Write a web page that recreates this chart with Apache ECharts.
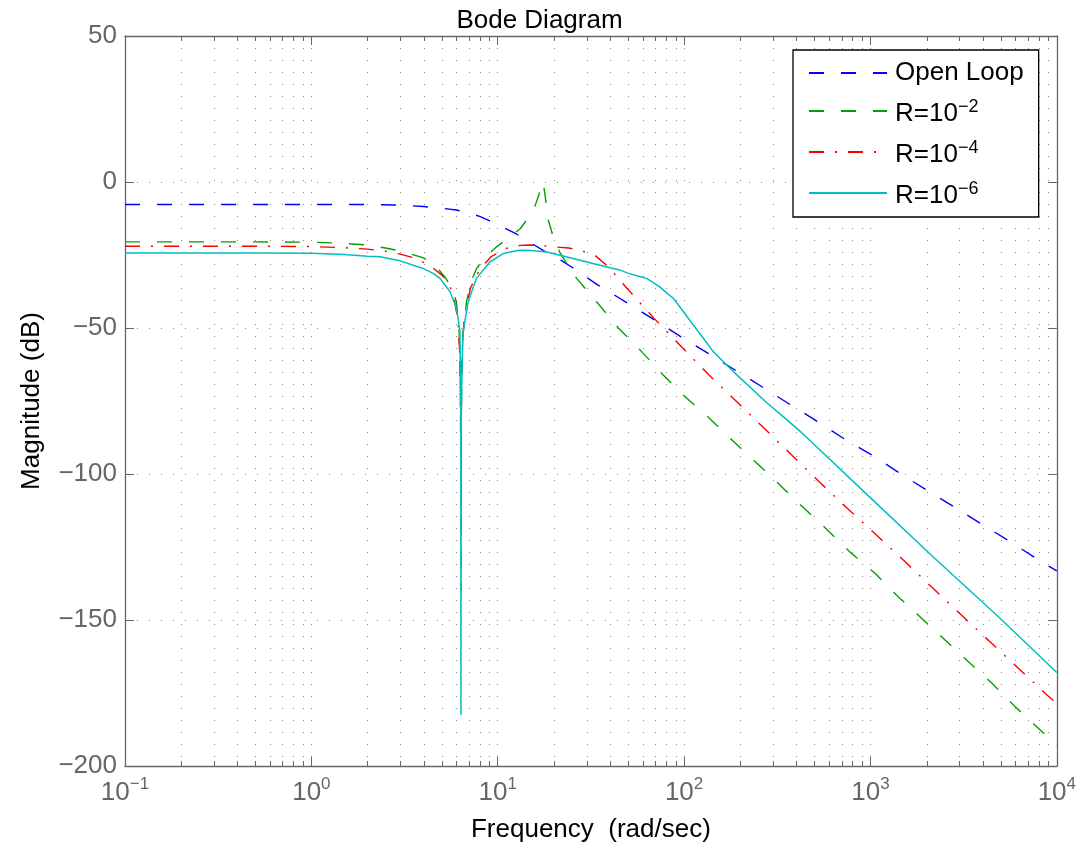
<!DOCTYPE html>
<html>
<head>
<meta charset="utf-8">
<script src="https://cdn.jsdelivr.net/npm/echarts@6/dist/echarts.min.js"></script>
<style>
  html, body { margin: 0; padding: 0; background: #fff; }
  #chart { width: 1079px; height: 848px; }
</style>
</head>
<body>
<div id="chart"></div>
<script>
// ---- Data (frequency rad/s, magnitude dB) ----
const seriesNames = ['Open Loop', 'R=10^−2', 'R=10^−4', 'R=10^−6'];

const openLoopFreq = [0.1, 1, 2, 3, 4, 5, 6, 7, 8, 9, 10, 12.6, 15, 17.8, 20, 24.9, 34.5, 49, 68, 95, 134, 190, 263, 370, 522, 729, 1030, 1440, 2000, 2840, 3950, 5580, 7780, 10000];
const openLoopDb   = [-7.7, -7.7, -7.7, -7.9, -8.4, -9.0, -9.6, -10.6, -11.8, -13.2, -14.6, -17.8, -20.8, -23.7, -25.3, -29.1, -35.3, -41.2, -46.9, -52.8, -58.6, -64.6, -70.2, -76.2, -82.1, -88.1, -93.7, -99.8, -105.5, -111.4, -117.2, -123, -129, -133.2];

const r2Freq = [0.1, 0.5, 1, 1.5, 2, 2.5, 3, 4, 4.6, 5.2, 5.7, 6.0, 6.2, 6.33, 6.35, 6.37, 6.5, 6.8, 7.2, 7.7, 8.7, 9.86, 11.5, 13.2, 14.7, 15.9, 16.7, 17.2, 17.5, 17.9, 18.7, 20, 21.5, 24, 26.5, 33.9, 44.4, 59, 77, 103, 132, 200, 300, 445, 580, 776, 1057, 1409, 1880, 2506, 3343, 4460, 5944, 10000];
const r2Db   = [-20.5, -20.5, -20.6, -21.0, -21.6, -22.6, -23.6, -26.0, -28.5, -32.5, -36.5, -41, -50, -80, -140, -80, -52, -41, -34, -29.6, -25.3, -22.2, -19, -16, -12, -8, -4, -0.7, 0, -4, -13.2, -19.5, -24, -29, -33, -41, -50, -58, -66, -74, -80, -91, -101.5, -112, -118.8, -126.7, -134, -142, -149.4, -156.8, -164.2, -171.5, -179.5, -193];

const r4Freq = [0.1, 0.5, 1, 1.5, 2, 2.5, 3, 3.73, 4.5, 5.0, 5.41, 5.8, 6.1, 6.3, 6.35, 6.4, 6.6, 7.13, 8, 9.2, 11, 13.2, 15, 17, 20, 24, 28, 30, 33.2, 38.4, 44, 50, 69, 96, 134, 190, 536, 758, 1080, 1531, 2173, 3077, 4365, 6194, 8790, 10000];
const r4Db   = [-22.0, -22.0, -22.1, -22.5, -23.0, -23.7, -24.7, -26.4, -29.5, -31.8, -34.2, -39, -47, -62, -120, -62, -47, -36.4, -30, -25.6, -22.8, -21.7, -21.6, -21.8, -22.2, -22.6, -23.5, -24.2, -25.1, -28.5, -32.8, -36.8, -46.7, -56.2, -65.7, -75, -102.9, -112, -121, -130, -139.2, -148.3, -157.4, -166.4, -175.5, -178.5];

const r6Freq = [0.1, 0.5, 1, 1.5, 2, 2.33, 3, 3.97, 4.5, 4.9, 5.55, 6.01, 6.27, 6.33, 6.35, 6.37, 6.45, 6.53, 6.94, 7.69, 9.07, 10.7, 13.0, 15, 18.3, 21.6, 27.6, 40, 45, 50, 55, 63, 74, 80, 87.5, 100, 112, 125, 143, 165, 199, 277, 354, 418, 953, 2173, 4942, 10000];
const r6Db   = [-24.3, -24.3, -24.4, -24.8, -25.4, -25.6, -27.0, -29.6, -31.3, -33, -37.6, -43.3, -51.2, -80, -182.5, -80, -60, -51.2, -41, -33, -27.4, -24.5, -23.4, -23.5, -24.0, -25.1, -26.8, -29.4, -30.1, -31.2, -32, -33, -35.9, -37.8, -39.8, -44.7, -49, -52.9, -58, -62, -67, -75.5, -81.3, -85.3, -106.9, -128.4, -149.3, -168];

// Axis ranges / ticks
const xMin = 0.1, xMax = 10000;
const yMin = -200, yMax = 50, yStep = 50;
const minorMultipliers = [2, 3, 4, 5, 6, 7, 8, 9];
const decadeStarts = [0.1, 1, 10, 100, 1000];

// ---- Build ----
const minorFreqs = [];
decadeStarts.forEach(d => minorMultipliers.forEach(m => minorFreqs.push([+(d * m).toPrecision(6), yMin])));

function zip(f, v) { return f.map((x, i) => [x, v[i]]); }

const FONT = "'Liberation Sans', Arial, Helvetica, sans-serif";
const AXIS_COLOR = '#666666';
const GRID_DOT = '#8a8a8a';
const minus = s => String(s).replace('-', '\u2212');

function legendFmt(name) {
  const p = name.split('^');
  if (p.length === 1) return '{o|' + name + '}';
  return '{b|' + p[0] + '}{s|' + p[1] + '}';
}

const chart = echarts.init(document.getElementById('chart'), null, { renderer: 'canvas' });

const lineCommon = { type: 'line', showSymbol: false, symbol: 'none', smooth: false, xAxisIndex: 0, yAxisIndex: 0, clip: true };

const option = {
  animation: false,
  backgroundColor: '#ffffff',
  textStyle: { fontFamily: FONT },
  title: {
    text: 'Bode Diagram', left: 'center', top: 3,
    textStyle: { fontFamily: FONT, fontSize: 26, fontWeight: 'normal', color: '#000' }
  },
  grid: { left: 125, right: 22, top: 36, bottom: 78, containLabel: false },
  legend: {
    data: seriesNames,
    orient: 'vertical',
    left: 793, top: 50,
    backgroundColor: '#fff',
    borderColor: '#000', borderWidth: 1.3, borderRadius: 0,
    padding: [10, 15, 8, 15],
    itemWidth: 78, itemHeight: 14, itemGap: 9,
    itemStyle: { opacity: 0 },
    formatter: legendFmt,
    textStyle: {
      fontFamily: FONT, color: '#000',
      rich: {
        o: { fontSize: 26, lineHeight: 32, color: '#000', padding: [0, 0, 0, 3] },
        b: { fontSize: 26, lineHeight: 26, color: '#000', padding: [6, 0, 0, 3] },
        s: { fontSize: 18, lineHeight: 16, color: '#000', verticalAlign: 'top' }
      }
    }
  },
  xAxis: [{
    type: 'log', logBase: 10, min: xMin, max: xMax, position: 'bottom',
    name: 'Frequency  (rad/sec)', nameLocation: 'middle', nameGap: 51,
    nameTextStyle: { fontFamily: FONT, fontSize: 26, color: '#000' },
    axisLine: { show: true, onZero: false, lineStyle: { color: AXIS_COLOR, width: 1.3 } },
    axisTick: { show: true, inside: true, length: 9, lineStyle: { color: AXIS_COLOR, width: 1 } },
    axisLabel: {
      show: true, margin: 10, showMinLabel: true, showMaxLabel: true, hideOverlap: false,
      formatter: v => '{b|10}{s|' + minus(Math.round(Math.log10(v))) + '}',
      rich: {
        b: { fontSize: 26, lineHeight: 26, color: AXIS_COLOR, padding: [8, 0, 0, 0] },
        s: { fontSize: 17, lineHeight: 17, color: AXIS_COLOR, verticalAlign: 'top' }
      }
    },
    splitLine: { show: true, lineStyle: { color: GRID_DOT, type: [1, 11], width: 1 } }
  }, {
    type: 'log', logBase: 10, min: xMin, max: xMax, position: 'top',
    axisLine: { show: true, onZero: false, lineStyle: { color: AXIS_COLOR, width: 1.3 } },
    axisTick: { show: true, inside: true, length: 9, lineStyle: { color: AXIS_COLOR, width: 1 } },
    axisLabel: { show: false }, splitLine: { show: false }
  }],
  yAxis: [{
    type: 'value', min: yMin, max: yMax, interval: yStep, position: 'left',
    name: 'Magnitude (dB)', nameLocation: 'middle', nameGap: 80, nameRotate: 90,
    nameTextStyle: { fontFamily: FONT, fontSize: 26, color: '#000' },
    axisLine: { show: true, onZero: false, lineStyle: { color: AXIS_COLOR, width: 1.3 } },
    axisTick: { show: true, inside: true, length: 9, lineStyle: { color: AXIS_COLOR, width: 1 } },
    axisLabel: { show: true, margin: 8, fontSize: 26, color: AXIS_COLOR, fontFamily: FONT, formatter: v => minus(v) },
    splitLine: { show: true, lineStyle: { color: GRID_DOT, type: [1, 11], width: 1 } }
  }, {
    type: 'value', min: yMin, max: yMax, interval: yStep, position: 'right',
    axisLine: { show: true, onZero: false, lineStyle: { color: AXIS_COLOR, width: 1.3 } },
    axisTick: { show: true, inside: true, length: 9, lineStyle: { color: AXIS_COLOR, width: 1 } },
    axisLabel: { show: false }, splitLine: { show: false }
  }],
  series: [
    {
      type: 'custom', name: 'minorGrid', silent: true, z: 1,
      xAxisIndex: 0, yAxisIndex: 0,
      data: minorFreqs,
      renderItem: function (params, api) {
        const x = Math.round(api.coord([api.value(0), yMin])[0]) + 0.5;
        const cs = params.coordSys;
        const top = cs.y, bot = cs.y + cs.height;
        return {
          type: 'group',
          children: [
            { type: 'line', shape: { x1: x, y1: top, x2: x, y2: bot }, style: { stroke: GRID_DOT, lineWidth: 1, lineDash: [1, 11] } },
            { type: 'line', shape: { x1: x, y1: bot, x2: x, y2: bot - 5 }, style: { stroke: AXIS_COLOR, lineWidth: 1 } },
            { type: 'line', shape: { x1: x, y1: top, x2: x, y2: top + 5 }, style: { stroke: AXIS_COLOR, lineWidth: 1 } }
          ]
        };
      }
    },
    Object.assign({}, lineCommon, { name: seriesNames[0], z: 3, data: zip(openLoopFreq, openLoopDb),
      lineStyle: { color: '#0000ff', width: 1.4, type: [15, 17] }, itemStyle: { color: '#0000ff' } }),
    Object.assign({}, lineCommon, { name: seriesNames[1], z: 4, data: zip(r2Freq, r2Db),
      lineStyle: { color: '#00a000', width: 1.4, type: [15, 17] }, itemStyle: { color: '#00a000' } }),
    Object.assign({}, lineCommon, { name: seriesNames[2], z: 5, data: zip(r4Freq, r4Db),
      lineStyle: { color: '#ff0000', width: 1.4, type: [15, 11, 2, 11] }, itemStyle: { color: '#ff0000' } }),
    Object.assign({}, lineCommon, { name: seriesNames[3], z: 6, data: zip(r6Freq, r6Db),
      lineStyle: { color: '#00bfbf', width: 1.5, type: 'solid' }, itemStyle: { color: '#00bfbf' } })
  ]
};

chart.setOption(option);
</script>
</body>
</html>
